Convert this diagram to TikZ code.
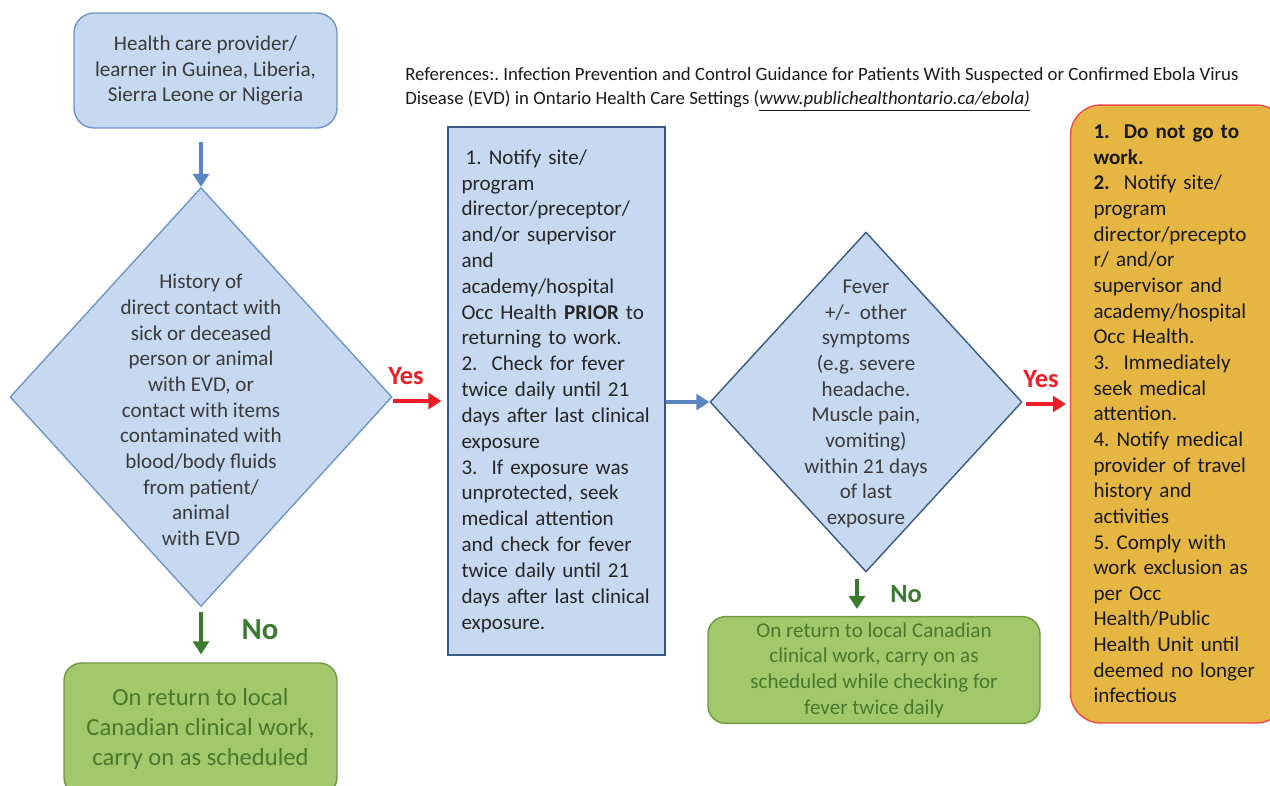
\documentclass[tikz,border=0pt]{standalone}
\usepackage{fontspec}
\setmainfont{Carlito}
\frenchspacing
\usetikzlibrary{positioning, arrows.meta, shapes.geometric, calc}
\definecolor{boxblue}{HTML}{C6D9F1}
\definecolor{edgeblue}{HTML}{7095C8}
\definecolor{edgedark}{HTML}{3A5A86}
\definecolor{fillgreen}{HTML}{A2C86C}
\definecolor{edgegreen}{HTML}{6F9A40}
\definecolor{textgreen}{HTML}{487A2C}
\definecolor{arrowblue}{HTML}{5A86C0}
\definecolor{arrowgreen}{HTML}{3B7B30}
\definecolor{alertred}{HTML}{EE1C25}
\definecolor{fillorange}{HTML}{E6B642}
\definecolor{edgered}{HTML}{F04A4A}
\definecolor{textgray}{HTML}{3A3A3A}

\begin{document}
\begin{tikzpicture}[x=0.02cm, y=-0.02cm,
        box/.style={draw=edgeblue, fill=boxblue, line width=0.8pt, align=center,
                    inner sep=0pt, text=textgray, font=\fontsize{12}{14.7}\selectfont},
        decision/.style={diamond, draw=edgeblue, fill=boxblue, line width=0.8pt, inner sep=0pt},
        goodbox/.style={draw=edgegreen, fill=fillgreen, rounded corners=0.35cm, line width=0.8pt,
                    align=center, text=textgreen},
        flow/.style={line width=2.2pt, -{Triangle[length=0.26cm, width=0.32cm]}},
        answer/.style={font=\bfseries\fontsize{15}{18}\selectfont},
    ]
        \useasboundingbox (0,0) rectangle (1270,785);

        % start and first question
        \node[box, rounded corners=0.4cm, minimum width=5.26cm, minimum height=2.3cm]
            (start) at (205.5,70.5) {Health care provider/\\ learner in Guinea, Liberia,\\ Sierra Leone or Nigeria};
        \node[decision, minimum width=7.64cm, minimum height=8.38cm] (contact) at (201,397) {};
        \node[align=center, text=textgray, font=\fontsize{12}{14.6}\selectfont] (contacttext) at (201,410)
            {History of\\ direct contact with\\ sick or deceased\\ person or animal\\ with EVD, or\\ contact with items\\
             contaminated with\\ blood/body fluids\\ from patient/\\ animal\\ with EVD};
        \node[goodbox, minimum width=5.46cm, minimum height=2.64cm, font=\fontsize{14}{17}\selectfont]
            (carryon) at (200.5,729) {On return to local\\ Canadian clinical work,\\ carry on as scheduled};

        % actions after exposure
        \node[box, draw=edgedark, minimum width=4.34cm, minimum height=10.56cm, text width=3.8cm,
              align=left, inner xsep=0.27cm, text=black!85] (notify) at (556.5,391)
            {\hspace{0.2em}1. Notify site/\\ program\\ director/preceptor/\\ and/or supervisor\\ and\\ academy/hospital\\
             Occ Health \textbf{PRIOR} to\\ returning to work.\\ 2.\ \ Check for fever\\ twice daily until 21\\
             days after last clinical\\ exposure\\ 3.\ \ If exposure was\\ unprotected, seek\\ medical attention\\
             and check for fever\\ twice daily until 21\\ days after last clinical\\ exposure.};

        % second question
        \node[decision, draw=edgedark, minimum width=6.24cm, minimum height=6.8cm] (fever) at (866,402) {};
        \node[align=center, text=textgray, font=\fontsize{12}{14.6}\selectfont] (fevertext) at (866,404)
            {Fever\\ +/-\ \ other\\ symptoms\\ (e.g. severe\\ headache.\\ Muscle pain,\\ vomiting)\\
             within 21 days\\ of last\\ exposure};
        \node[goodbox, minimum width=6.64cm, minimum height=2.12cm, font=\fontsize{12}{14.6}\selectfont]
            (checking) at (874,670) {On return to local Canadian\\ clinical work, carry on as\\
             scheduled while checking for\\ fever twice daily};
        \node[draw=edgered, fill=fillorange, line width=0.8pt, rounded corners=0.6cm,
              minimum width=4.26cm, minimum height=12.36cm, text width=3.4cm, inner xsep=0.46cm,
              align=left, font=\fontsize{12}{14.6}\selectfont, text=black!90] (stay) at (1178.5,414)
            {\textbf{1.\ \ Do not go to}\\ \textbf{work.}\\ \textbf{2.}\ \ Notify site/\\ program\\ director/precepto\\
             r/ and/or\\ supervisor and\\ academy/hospital\\ Occ Health.\\ 3.\ \ Immediately\\ seek medical\\
             attention.\\ 4. Notify medical\\ provider of travel\\ history and\\ activities\\ 5. Comply with\\
             work exclusion as\\ per Occ\\ Health/Public\\ Health Unit until\\ deemed no longer\\ infectious};

        % reference line
        \node[anchor=north west, inner sep=0pt, align=left, text=black!90,
              font=\fontsize{10.7}{13.7}\selectfont] (refs) at (405,67)
            {References:. Infection Prevention and Control Guidance for Patients With Suspected or Confirmed Ebola Virus\\
             Disease (EVD) in Ontario Health Care Settings (\underline{\textit{www.publichealthontario.ca/ebola)}}};

        % connectors
        \draw[flow, arrowblue, shorten <=0.26cm] (start.south -| contact.north) -- (contact.north);
        \draw[flow, alertred, shorten >=0.12cm] ([yshift=-0.08cm]contact.east) -- ([yshift=-0.08cm]contact.east -| notify.west);
        \draw[flow, arrowgreen, shorten <=0.1cm, shorten >=0.16cm] (contact.south) -- (contact.south |- carryon.north);
        \draw[flow, arrowblue] (notify.east |- fever.west) -- (fever.west);
        \draw[flow, alertred, shorten <=0.06cm, shorten >=0.08cm] ([yshift=-0.04cm]fever.east) -- ([yshift=-0.04cm]fever.east -| stay.west);
        \draw[flow, arrowgreen, shorten <=0.12cm, shorten >=0.14cm] ([xshift=-0.18cm]fever.south) -- ([xshift=-0.18cm]fever.south |- checking.north);

        % answers
        \node[answer, text=alertred] (yes1) at (406,376) {Yes};
        \node[answer, text=alertred] (yes2) at (1041,379) {Yes};
        \node[answer, text=arrowgreen, font=\bfseries\fontsize{17.5}{20}\selectfont] (no1) at (260,630) {No};
        \node[answer, text=arrowgreen] (no2) at (906,594) {No};
    \end{tikzpicture}
\end{document}
